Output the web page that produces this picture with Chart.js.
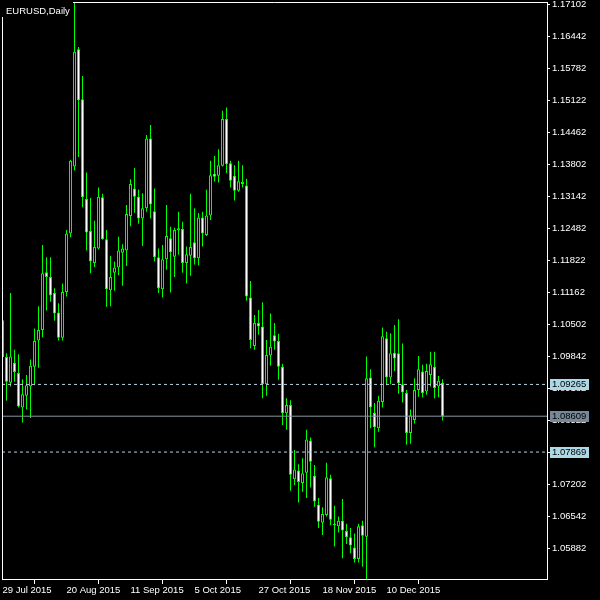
<!DOCTYPE html>
<html><head><meta charset="utf-8">
<script src="https://cdn.jsdelivr.net/npm/chart.js@4"></script>
<style>html,body{margin:0;padding:0;background:#000;overflow:hidden;}</style>
</head><body><canvas id="c" width="600" height="600"></canvas>
<script>
const chartTitle = 'EURUSD,Daily';
const xTickIndex = [0, 16, 32, 48, 64, 80, 96];
const xTickLabels = ['29 Jul 2015', '20 Aug 2015', '11 Sep 2015', '5 Oct 2015', '27 Oct 2015', '18 Nov 2015', '10 Dec 2015'];
const yTickValues = [1.17102, 1.16442, 1.15782, 1.15122, 1.14462, 1.13802, 1.13142, 1.12482, 1.11822, 1.11162,
  1.10502, 1.09842, 1.09182, 1.08522, 1.07862, 1.07202, 1.06542, 1.05882];

const opens = [
  1.1059, 1.0983, 1.0930, 1.0971, 1.0950, 1.0879, 1.0903, 1.0922, 1.0963, 1.1017,
  1.1039, 1.1158, 1.1148, 1.1115, 1.1075, 1.1023, 1.1117, 1.1238, 1.1376, 1.1618,
  1.1515, 1.1309, 1.1243, 1.1177, 1.1207, 1.1313, 1.1226, 1.1121, 1.1157, 1.1168,
  1.1198, 1.1203, 1.1274, 1.1331, 1.1314, 1.1269, 1.1290, 1.1434, 1.1284, 1.1189,
  1.1123, 1.1185, 1.1228, 1.1190, 1.1244, 1.1247, 1.1177, 1.1192, 1.1220, 1.1187,
  1.1271, 1.1235, 1.1275, 1.1361, 1.1357, 1.1378, 1.1474, 1.1383, 1.1357, 1.1326,
  1.1344, 1.1337, 1.1106, 1.1006, 1.1053, 1.1046, 1.0927, 1.0986, 1.1028, 1.1016,
  1.0963, 1.0867, 1.0884, 1.0731, 1.0749, 1.0723, 1.0744, 1.0811, 1.0738, 1.0678,
  1.0641, 1.0657, 1.0733, 1.0639, 1.0634, 1.0645, 1.0624, 1.0611, 1.0590, 1.0566,
  1.0636, 1.0612, 1.0941, 1.0868, 1.0836, 1.0890, 1.1022, 1.0941, 1.0992, 1.0991,
  1.0927, 1.0909, 1.0826, 1.0853, 1.0915, 1.0953, 1.0912, 1.0946, 1.0963, 1.0922,
  1.0930];
const highs = [
  1.1066, 1.0991, 1.1115, 1.0998, 1.0989, 1.0937, 1.0946, 1.0978, 1.1042, 1.1088,
  1.1214, 1.1189, 1.1189, 1.1125, 1.1094, 1.1135, 1.1245, 1.1390, 1.1714, 1.1623,
  1.1563, 1.1364, 1.1311, 1.1264, 1.1333, 1.1320, 1.1245, 1.1192, 1.1180, 1.1231,
  1.1216, 1.1297, 1.1350, 1.1373, 1.1329, 1.1321, 1.1441, 1.1462, 1.1331, 1.1207,
  1.1214, 1.1297, 1.1252, 1.1250, 1.1283, 1.1262, 1.1211, 1.1320, 1.1290, 1.1280,
  1.1283, 1.1328, 1.1388, 1.1398, 1.1412, 1.1491, 1.1498, 1.1388, 1.1379, 1.1388,
  1.1379, 1.1351, 1.1140, 1.1070, 1.1080, 1.1096, 1.1018, 1.1073, 1.1053, 1.1031,
  1.0969, 1.0898, 1.0894, 1.0791, 1.0762, 1.0774, 1.0833, 1.0817, 1.0760, 1.0692,
  1.0673, 1.0765, 1.0740, 1.0676, 1.0654, 1.0690, 1.0639, 1.0630, 1.0619, 1.0639,
  1.0645, 1.0984, 1.0958, 1.0888, 1.0903, 1.1044, 1.1035, 1.1032, 1.1049, 1.1061,
  1.1011, 1.0915, 1.0875, 1.0939, 1.0985, 1.0967, 1.0969, 1.0994, 1.0994, 1.0944,
  1.0937];
const lows = [
  1.0978, 1.0893, 1.0922, 1.0932, 1.0879, 1.0848, 1.0875, 1.0857, 1.0925, 1.0961,
  1.1024, 1.1079, 1.1097, 1.1058, 1.1017, 1.1017, 1.1108, 1.1230, 1.1368, 1.1396,
  1.1292, 1.1203, 1.1156, 1.1169, 1.1205, 1.1225, 1.1087, 1.1088, 1.1120, 1.1152,
  1.1130, 1.1171, 1.1253, 1.1281, 1.1258, 1.1212, 1.1283, 1.1269, 1.1180, 1.1115,
  1.1106, 1.1163, 1.1116, 1.1148, 1.1194, 1.1157, 1.1135, 1.1151, 1.1174, 1.1172,
  1.1211, 1.1233, 1.1266, 1.1345, 1.1343, 1.1376, 1.1363, 1.1333, 1.1306, 1.1324,
  1.1333, 1.1099, 1.1001, 1.0998, 1.1029, 1.0898, 1.0903, 1.0965, 1.0998, 1.0936,
  1.0843, 1.0833, 1.0707, 1.0719, 1.0683, 1.0705, 1.0692, 1.0714, 1.0674, 1.0630,
  1.0616, 1.0654, 1.0636, 1.0592, 1.0621, 1.0568, 1.0597, 1.0578, 1.0559, 1.0559,
  1.0550, 1.0524, 1.0836, 1.0797, 1.0829, 1.0879, 1.0925, 1.0927, 1.0954, 1.0907,
  1.0889, 1.0802, 1.0804, 1.0846, 1.0901, 1.0900, 1.0905, 1.0922, 1.0898, 1.0900,
  1.0852];
const closes = [
  1.0983, 1.0932, 1.0984, 1.0952, 1.0881, 1.0906, 1.0925, 1.0965, 1.1016, 1.1039,
  1.1156, 1.1148, 1.1110, 1.1073, 1.1023, 1.1117, 1.1238, 1.1388, 1.1613, 1.1513,
  1.1313, 1.1240, 1.1180, 1.1210, 1.1314, 1.1226, 1.1123, 1.1148, 1.1168, 1.1203,
  1.1207, 1.1278, 1.1340, 1.1314, 1.1269, 1.1290, 1.1434, 1.1298, 1.1189, 1.1125,
  1.1185, 1.1233, 1.1199, 1.1245, 1.1249, 1.1177, 1.1195, 1.1210, 1.1187, 1.1271,
  1.1238, 1.1275, 1.1358, 1.1355, 1.1379, 1.1474, 1.1381, 1.1347, 1.1326, 1.1346,
  1.1340, 1.1108, 1.1018, 1.1053, 1.1046, 1.0927, 1.0987, 1.1004, 1.1015, 1.0963,
  1.0867, 1.0884, 1.0740, 1.0751, 1.0725, 1.0743, 1.0813, 1.0767, 1.0685, 1.0643,
  1.0659, 1.0735, 1.0647, 1.0636, 1.0645, 1.0625, 1.0611, 1.0594, 1.0566, 1.0634,
  1.0614, 1.0939, 1.0879, 1.0838, 1.0893, 1.1026, 1.0941, 1.0991, 1.0980, 1.0929,
  1.0910, 1.0826, 1.0863, 1.0915, 1.0958, 1.0909, 1.0954, 1.0968, 1.0919, 1.0934,
  1.0861];

const bidPrice = 1.08609;
const upperLevel = 1.09265;
const lowerLevel = 1.07869;

const X_MIN = -0.125, X_MAX = 136.125;
const Y_MIN = 1.052497, Y_MAX = 1.171567;
const GREEN = '#00ff00';
const FONT = { family: 'Liberation Sans', size: 9.5 };

const mtOverlay = {
  id: 'mtOverlay',
  afterDraw(chart) {
    const ctx = chart.ctx;
    const a = chart.chartArea;
    const ys = chart.scales.y;
    ctx.save();
    ctx.strokeStyle = '#ffffff';
    ctx.lineWidth = 1;
    ctx.beginPath();
    ctx.moveTo(a.left + 0.5, a.bottom);
    ctx.lineTo(a.left + 0.5, a.top + 0.5);
    ctx.lineTo(a.right, a.top + 0.5);
    ctx.stroke();
    ctx.font = '9.5px "Liberation Sans"';
    ctx.fillStyle = '#000';
    ctx.fillRect(0, 0, 73, 17);
    ctx.fillStyle = '#fff';
    ctx.textBaseline = 'alphabetic';
    ctx.textAlign = 'left';
    ctx.fillText(chartTitle, 6, 14);
    const boxes = [[upperLevel, '#add8e6'], [bidPrice, '#778899'], [lowerLevel, '#add8e6']];
    for (const [v, col] of boxes) {
      const y = Math.round(ys.getPixelForValue(v));
      ctx.fillStyle = col;
      ctx.fillRect(550, y - 5, 39, 11);
      ctx.fillStyle = '#000';
      ctx.textBaseline = 'middle';
      ctx.fillText(v.toFixed(5), 552, y + 0.5);
    }
    ctx.restore();
  }
};

const idx = opens.map((_, i) => i);
const hline = (v) => [{ x: X_MIN, y: v }, { x: X_MAX, y: v }];

new Chart(document.getElementById('c'), {
  type: 'bar',
  data: {
    datasets: [
      {
        type: 'line', data: hline(bidPrice), borderColor: '#8a96a2', borderWidth: 1,
        pointRadius: 0, order: 0
      },
      {
        type: 'line', data: hline(upperLevel), borderColor: '#b8d0e0', borderWidth: 1,
        borderDash: [3, 3], pointRadius: 0, order: 0
      },
      {
        type: 'line', data: hline(lowerLevel), borderColor: '#b8d0e0', borderWidth: 1,
        borderDash: [3, 3], pointRadius: 0, order: 0
      },
      {
        type: 'bar', data: idx.map(i => ({ x: i, y: [opens[i], closes[i]] })),
        backgroundColor: idx.map(i => closes[i] < opens[i] ? '#ffffff' : '#000000'),
        borderColor: GREEN, borderWidth: 1, borderSkipped: false,
        barThickness: 3, grouped: false, inflateAmount: 0, order: 1
      },
      {
        type: 'bar', data: idx.map(i => ({ x: i, y: [lows[i], highs[i]] })),
        backgroundColor: GREEN, borderWidth: 0, barThickness: 1,
        grouped: false, inflateAmount: 0, order: 2
      }
    ]
  },
  options: {
    responsive: false,
    animation: false,
    devicePixelRatio: 1,
    events: [],
    layout: { padding: { left: 2, top: 2, right: 0, bottom: 0 }, autoPadding: false },
    plugins: { legend: { display: false }, tooltip: { enabled: false }, title: { display: false } },
    scales: {
      x: {
        type: 'linear', position: 'bottom', min: X_MIN, max: X_MAX, offset: false,
        afterBuildTicks(s) { s.ticks = xTickIndex.map(v => ({ value: v })); },
        afterFit(s) { s.height = 21; s.paddingLeft = 0; s.paddingRight = 0; },
        ticks: {
          callback: (v) => { const k = xTickIndex.indexOf(v); return k >= 0 ? xTickLabels[k] : ''; },
          color: '#ffffff', font: FONT, align: 'start', maxRotation: 0, minRotation: 0,
          autoSkip: false, padding: 1
        },
        grid: { drawOnChartArea: false, drawTicks: true, tickLength: 5, color: '#ffffff' },
        border: { display: true, color: '#ffffff' }
      },
      y: {
        type: 'linear', position: 'right', min: Y_MIN, max: Y_MAX,
        afterBuildTicks(s) { s.ticks = yTickValues.map(v => ({ value: v })); },
        afterFit(s) { s.width = 53; s.paddingTop = 0; s.paddingBottom = 0; },
        ticks: {
          callback: (v) => v.toFixed(5), color: '#ffffff', font: FONT, padding: 2, autoSkip: false
        },
        grid: { drawOnChartArea: false, drawTicks: true, tickLength: 3, color: '#ffffff' },
        border: { display: true, color: '#ffffff' }
      }
    }
  },
  plugins: [mtOverlay]
});
</script>
</body></html>
